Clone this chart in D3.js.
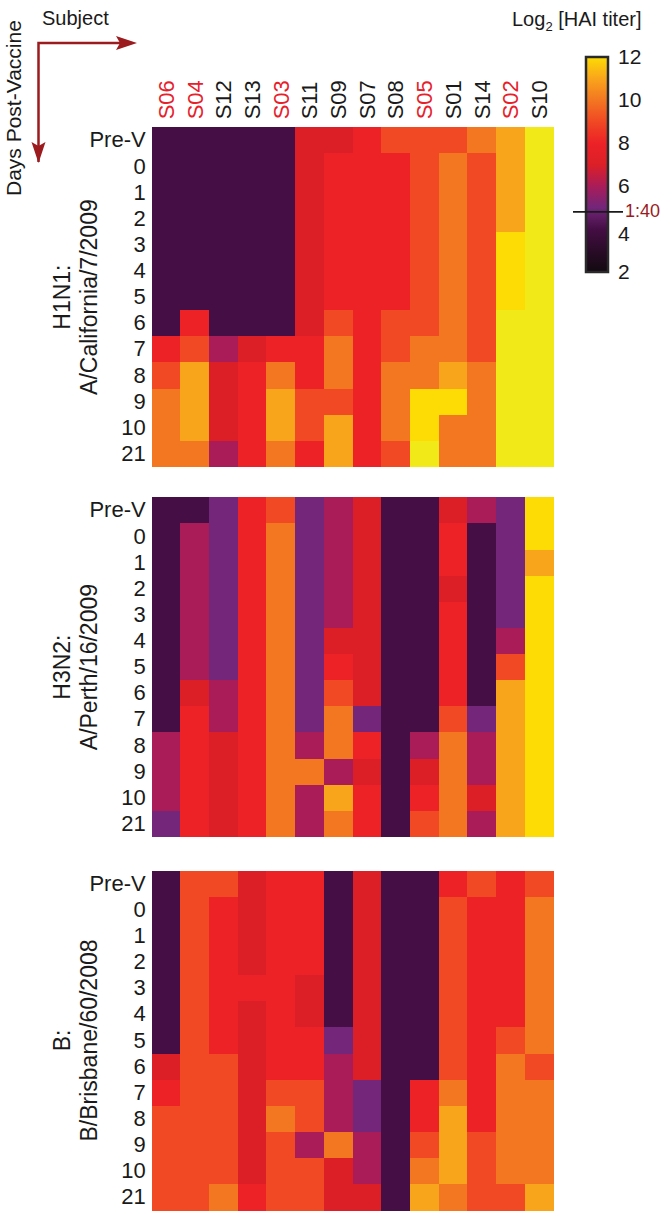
<!DOCTYPE html>
<html>
<head>
<meta charset="utf-8">
<script src="https://cdn.jsdelivr.net/npm/d3@7/dist/d3.min.js"></script>
<style>
  html, body { margin: 0; padding: 0; background: #fff; }
  svg { display: block; font-family: "Liberation Sans", Arial, Helvetica, sans-serif; }
</style>
</head>
<body>
<svg id="chart" width="672" height="1217"></svg>
<script>
// ---------- DATA ----------
const subjects = ["S06","S04","S12","S13","S03","S11","S09","S07","S08","S05","S01","S14","S02","S10"];
const redSubjects = ["S06","S04","S03","S05","S02"];
const days = ["Pre-V","0","1","2","3","4","5","6","7","8","9","10","21"];
const strains = [["H1N1:", "A/California/7/2009"], ["H3N2:", "A/Perth/16/2009"], ["B:", "B/Brisbane/60/2008"]];
const colorTicks = [2, 4, 6, 8, 10, 12];
const threshold = 4.8;          // position of the 1:40 mark on the colour bar
const thresholdLabel = "1:40";

// log2 HAI titer per day (rows) x subject (columns)
const h1n1 = [
  [4,4,4,4,4, 7,7,8,9,9, 9,10,11,13],
  [4,4,4,4,4, 7,8,8,8,9, 10,9,11,13],
  [4,4,4,4,4, 7,8,8,8,9, 10,9,11,13],
  [4,4,4,4,4, 7,8,8,8,9, 10,9,11,13],
  [4,4,4,4,4, 7,8,8,8,9, 10,9,12,13],
  [4,4,4,4,4, 7,8,8,8,9, 10,9,12,13],
  [4,4,4,4,4, 7,8,8,8,9, 10,9,12,13],
  [4,8,4,4,4, 7,9,8,9,9, 10,9,13,13],
  [8,9,6,7,8, 8,10,8,9,10, 10,9,13,13],
  [9,11,7,8,10, 8,10,8,10,10, 11,10,13,13],
  [10,11,7,8,11, 9,9,8,10,12, 12,10,13,13],
  [10,11,7,8,11, 9,11,8,10,12, 10,10,13,13],
  [10,10,6,8,10, 8,11,8,9,13, 10,10,13,13]
];
const h3n2 = [
  [4,4,5,8,9, 5,6,7,4,4, 7,6,5,12],
  [4,6,5,8,10, 5,6,7,4,4, 8,4,5,12],
  [4,6,5,8,10, 5,6,7,4,4, 8,4,5,11],
  [4,6,5,8,10, 5,6,7,4,4, 7,4,5,12],
  [4,6,5,8,10, 5,6,7,4,4, 8,4,5,12],
  [4,6,5,8,10, 5,7,7,4,4, 8,4,6,12],
  [4,6,5,8,10, 5,8,7,4,4, 8,4,9,12],
  [4,7,6,8,10, 5,9,7,4,4, 8,4,11,12],
  [4,8,6,8,10, 5,10,5,4,4, 9,5,11,12],
  [6,8,7,8,10, 6,10,8,4,6, 10,6,11,12],
  [6,8,7,8,10, 10,6,7,4,7, 10,6,11,12],
  [6,8,7,8,10, 6,11,8,4,8, 10,7,11,12],
  [5,8,7,8,10, 6,10,8,4,9, 10,6,11,12]
];
const bVic = [
  [4,9,9,7,8, 8,4,7,4,4, 8,9,8,9],
  [4,9,8,7,8, 8,4,7,4,4, 9,8,8,10],
  [4,9,8,7,8, 8,4,7,4,4, 9,8,8,10],
  [4,9,8,7,8, 8,4,7,4,4, 9,8,8,10],
  [4,9,8,8,8, 7,4,7,4,4, 9,8,8,10],
  [4,9,8,7,8, 7,4,7,4,4, 9,8,8,10],
  [4,9,8,7,8, 8,5,7,4,4, 9,8,9,10],
  [7,9,9,7,8, 8,6,7,4,4, 9,8,10,9],
  [8,9,9,7,9, 9,6,5,4,8, 10,8,10,10],
  [9,9,9,7,10, 9,6,5,4,8, 11,8,10,10],
  [9,9,9,7,9, 6,10,6,4,9, 11,9,10,10],
  [9,9,9,7,9, 9,7,6,4,10, 11,9,10,10],
  [9,9,10,8,9, 9,7,7,4,11, 10,9,9,11]
];
const panels = [h1n1, h3n2, bVic];

// ---------- LAYOUT ----------
const svg = d3.select("#chart");
const left = 151.7, right = 553.3;
const panelTops = [127.3, 497.3, 870.7];
const panelH = 339.6;
const darkRed = "#9b1b1f";

const color = d3.scaleLinear()
  .domain([2, 3, 4, 5, 6, 7, 8, 9, 10, 11, 12, 13])
  .range(["#120a10", "#2a0b28", "#450e45", "#73267a", "#aa1c58", "#dc1f27",
          "#ec2227", "#f04923", "#f37721", "#f9a51b", "#fcdc04", "#f2ea18"])
  .clamp(true);

const x = d3.scaleBand().domain(subjects).range([left, right]).padding(0);

panels.forEach((grid, pi) => {
  const top = panelTops[pi];
  const y = d3.scaleBand().domain(days).range([top, top + panelH]).padding(0);
  const g = svg.append("g");
  const cells = [];
  grid.forEach((row, ri) => row.forEach((v, ci) => cells.push({day: days[ri], subj: subjects[ci], v})));
  g.selectAll("rect").data(cells).join("rect")
    .attr("x", d => x(d.subj))
    .attr("y", d => y(d.day))
    .attr("width", x.bandwidth() + 0.5)
    .attr("height", y.bandwidth() + 0.5)
    .attr("fill", d => color(d.v))
    .attr("shape-rendering", "crispEdges");

  // row labels
  const ay = svg.append("g").attr("transform", `translate(${left - 6},0)`)
    .call(d3.axisLeft(y).tickSize(0).tickPadding(0));
  ay.select(".domain").remove();
  ay.selectAll("text").attr("font-size", 22).attr("fill", "#1a1a1a")
    .style("font-family", "'Liberation Sans', Arial, sans-serif");

  // strain title
  const cy = top + panelH / 2;
  const t = svg.append("text")
    .attr("transform", `translate(0,${cy}) rotate(-90)`)
    .attr("text-anchor", "middle")
    .attr("font-size", 23).attr("fill", "#1a1a1a");
  t.append("tspan").attr("x", 0).attr("y", 70).text(strains[pi][0]);
  t.append("tspan").attr("x", 0).attr("y", 97).text(strains[pi][1]);
});

// column labels
const ax = svg.append("g").attr("transform", `translate(0,${panelTops[0] - 8})`)
  .call(d3.axisTop(x).tickSize(0).tickPadding(0));
ax.select(".domain").remove();
ax.selectAll("text")
  .attr("transform", "rotate(-90)")
  .attr("x", 0).attr("y", 0).attr("dy", "0.36em")
  .attr("text-anchor", "start")
  .attr("font-size", 22)
  .style("font-family", "'Liberation Sans', Arial, sans-serif")
  .attr("fill", d => redSubjects.includes(d) ? "#e8202a" : "#1a1a1a");

// corner annotations
svg.append("text").attr("x", 42).attr("y", 25).attr("font-size", 20).attr("fill", "#1a1a1a").text("Subject");
svg.append("text").attr("transform", "translate(21,196) rotate(-90)")
  .attr("font-size", 21).attr("fill", "#1a1a1a").text("Days Post-Vaccine");
svg.append("path").attr("d", "M38.5,162 L38.5,43 L120,43")
  .attr("fill", "none").attr("stroke", darkRed).attr("stroke-width", 2.5);
svg.append("path").attr("d", "M116,36 L137,43 L116,50 L120,43 Z").attr("fill", darkRed);
svg.append("path").attr("d", "M31.5,142 L38.5,163 L45.5,142 L38.5,146 Z").attr("fill", darkRed);

// colour bar
const cbX = 586, cbW = 22;
const cy = d3.scaleLinear().domain([2, 12]).range([272, 57]);
const defs = svg.append("defs");
const grad = defs.append("linearGradient").attr("id", "cbgrad")
  .attr("x1", 0).attr("y1", 1).attr("x2", 0).attr("y2", 0);
d3.range(0, 1.0001, 0.02).forEach(f => {
  grad.append("stop").attr("offset", f).attr("stop-color", color(2 + f * 10));
});
svg.append("rect").attr("x", cbX).attr("y", cy(12)).attr("width", cbW).attr("height", cy(2) - cy(12))
  .attr("fill", "url(#cbgrad)").attr("stroke", "#2a2a2a").attr("stroke-width", 2.5);
const ac = svg.append("g").attr("transform", `translate(${cbX + cbW + 10},0)`)
  .call(d3.axisRight(cy).tickValues(colorTicks).tickSize(0).tickPadding(0));
ac.select(".domain").remove();
ac.selectAll("text").attr("font-size", 21).attr("fill", "#1a1a1a")
  .style("font-family", "'Liberation Sans', Arial, sans-serif")
  .attr("dy", d => d === 4 ? "0.55em" : "0.32em");
svg.append("line").attr("x1", 573).attr("x2", 623).attr("y1", cy(threshold)).attr("y2", cy(threshold))
  .attr("stroke", "#1a1a1a").attr("stroke-width", 1.8);
svg.append("text").attr("x", 625).attr("y", cy(threshold)).attr("dy", "0.3em")
  .attr("font-size", 18).attr("fill", darkRed).text(thresholdLabel);

// colour bar title
const lt = svg.append("text").attr("x", 512).attr("y", 26).attr("font-size", 20).attr("fill", "#1a1a1a");
lt.append("tspan").text("Log");
lt.append("tspan").attr("font-size", 13).attr("dy", 5).text("2");
lt.append("tspan").attr("dy", -5).text(" [HAI titer]");
</script>
</body>
</html>
